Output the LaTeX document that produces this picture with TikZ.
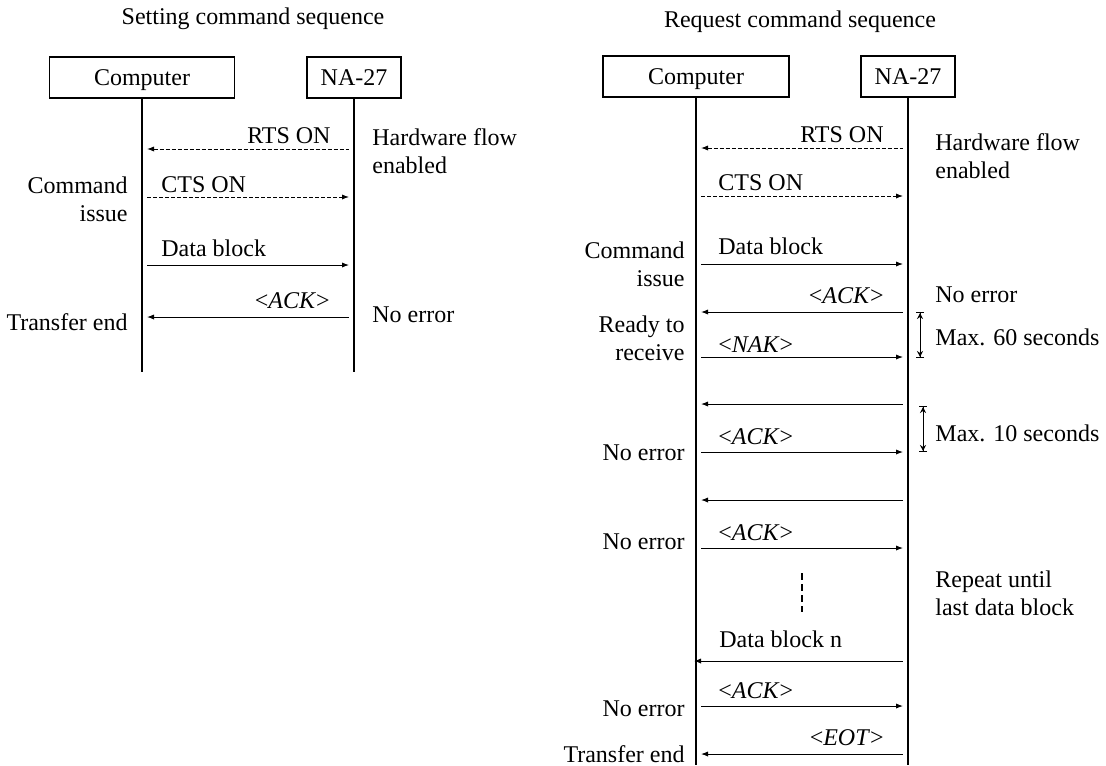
\documentclass[tikz,border=0pt]{standalone}
\usepackage{fontspec}
\setmainfont{Liberation Serif}
\usetikzlibrary{arrows.meta}

\begin{document}
\begin{tikzpicture}[x=0.5pt,y=-0.5pt,
  font=\fontsize{12}{13.75}\selectfont,
  >={Latex[length=3.5pt,width=2.6pt]},
  actor/.style={draw,line width=0.7pt,minimum height=20.5pt,inner sep=0pt,text height=8.5pt,text depth=0.6pt},
  life/.style={line width=1.2pt},
  msg/.style={line width=0.5pt,shorten >=2.5pt,shorten <=2.5pt},
  sig/.style={msg,dash pattern=on 2pt off 1pt},
  span/.style={line width=0.5pt,{Bar[width=4pt]Stealth[length=3pt,width=3pt]}-{Stealth[length=3pt,width=3pt]Bar[width=4pt]}},
  lbl/.style={inner sep=0pt},
  note/.style={inner sep=0pt,align=left,anchor=base west},
  side/.style={inner sep=0pt,align=right,anchor=base east}]
\useasboundingbox (0,0) rectangle (1106,765);

% setting command sequence
\node[lbl,anchor=base] (ltitle) at (253,25) {Setting command sequence};
\node[actor,minimum width=92.5pt] (lcomp) at (142,77.5) {Computer};
\node[actor,minimum width=47pt] (lna) at (354,77.5) {NA-27};
\coordinate (lcompE) at (142,372);
\coordinate (lnaE) at (354,372);
\draw[life] (lcomp.south) -- (lcompE);
\draw[life] (lna.south) -- (lnaE);

\draw[sig,<-] (lcomp |- 0,149) -- (lna |- 0,149);
\node[lbl,anchor=base east] (lrts) at (331,143) {RTS ON};
\draw[sig,->] (lcomp |- 0,197) -- (lna |- 0,197);
\node[lbl,anchor=base west] (lcts) at (161,192) {CTS ON};
\draw[msg,->] (lcomp |- 0,265) -- (lna |- 0,265);
\node[lbl,anchor=base west] (ldata) at (161,256) {Data block};
\draw[msg,<-] (lcomp |- 0,317) -- (lna |- 0,317);
\node[lbl,anchor=base east] (lack) at (330,308) {\textless\textit{ACK}\textgreater};

% base of a two-line note is its last line
\node[note] (lhw) at (372,173) {Hardware flow\\enabled};
\node[side] (lcmd) at (128,221) {Command\\issue};
\node[side] (lend) at (128,330) {Transfer end};
\node[note] (lok) at (372,322) {No error};

% request command sequence
\node[lbl,anchor=base] (rtitle) at (800,28) {Request command sequence};
\node[actor,minimum width=93pt] (rcomp) at (696,76.5) {Computer};
\node[actor,minimum width=47pt] (rna) at (908,76.5) {NA-27};
\coordinate (rcompE) at (696,765);
\coordinate (rnaE) at (908,765);
\draw[life] (rcomp.south) -- (rcompE);
\draw[life] (rna.south) -- (rnaE);

\draw[sig,<-] (rcomp |- 0,148) -- (rna |- 0,148);
\node[lbl,anchor=base east] (rrts) at (884,142) {RTS ON};
\draw[sig,->] (rcomp |- 0,196) -- (rna |- 0,196);
\node[lbl,anchor=base west] (rcts) at (718,190) {CTS ON};
\draw[msg,->] (rcomp |- 0,264) -- (rna |- 0,264);
\node[lbl,anchor=base west] (rdata) at (718,254) {Data block};
\draw[msg,<-] (rcomp |- 0,312) -- (rna |- 0,312);
\node[lbl,anchor=base east] (rack1) at (884,303) {\textless\textit{ACK}\textgreater};
\draw[msg,->] (rcomp |- 0,357) -- (rna |- 0,357);
\node[lbl,anchor=base west] (rnak) at (718,352) {\textless\textit{NAK}\textgreater};
\draw[msg,<-] (rcomp |- 0,404) -- (rna |- 0,404);
\draw[msg,->] (rcomp |- 0,452) -- (rna |- 0,452);
\node[lbl,anchor=base west] (rack2) at (718,444) {\textless\textit{ACK}\textgreater};
\draw[msg,<-] (rcomp |- 0,500) -- (rna |- 0,500);
\draw[msg,->] (rcomp |- 0,548) -- (rna |- 0,548);
\node[lbl,anchor=base west] (rack3) at (718,540) {\textless\textit{ACK}\textgreater};
\draw[msg,<-,shorten <=-1pt] (rcomp |- 0,661) -- (rna |- 0,661);
\node[lbl,anchor=base west] (rdatan) at (719,647) {Data block n};
\draw[msg,->] (rcomp |- 0,706) -- (rna |- 0,706);
\node[lbl,anchor=base west] (rack4) at (718,698) {\textless\textit{ACK}\textgreater};
\draw[msg,<-] (rcomp |- 0,754) -- (rna |- 0,754);
\node[lbl,anchor=base east] (reot) at (884,745) {\textless\textit{EOT}\textgreater};

% repeat marker
\coordinate (rep1) at (802,573);
\coordinate (rep2) at (802,612);
\draw[line width=1pt,dash pattern=on 3.5pt off 2pt] (rep1) -- (rep2);

% time limits
\coordinate (t60a) at (920,312);
\coordinate (t60b) at (920,358);
\draw[span] (t60a) -- (t60b);
\coordinate (t10a) at (923,406);
\coordinate (t10b) at (923,452);
\draw[span] (t10a) -- (t10b);

\node[note] (rhw) at (935,178) {Hardware flow\\enabled};
\node[side] (rcmd) at (685,286) {Command\\issue};
\node[note] (rok1) at (935,302) {No error};
\node[side] (rready) at (685,360) {Ready to\\receive};
\node[note] (rmax60) at (935,345) {Max. 60 seconds};
\node[note] (rmax10) at (935,441) {Max. 10 seconds};
\node[side] (rok2) at (685,460) {No error};
\node[side] (rok3) at (685,549) {No error};
\node[note] (rrep) at (935,615) {Repeat until\\last data block};
\node[side] (rok4) at (685,716) {No error};
\node[side] (rend) at (685,762) {Transfer end};
\end{tikzpicture}
\end{document}
